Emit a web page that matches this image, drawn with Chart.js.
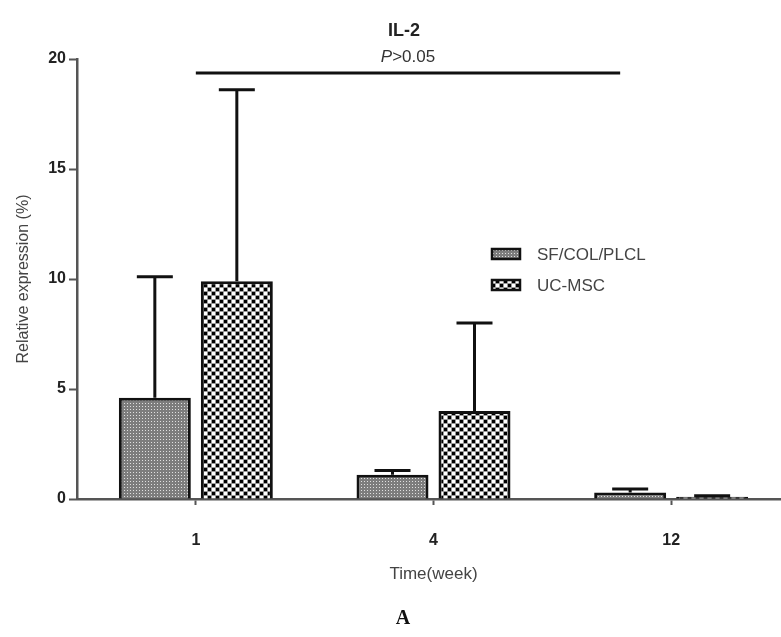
<!DOCTYPE html>
<html>
<head>
<meta charset="utf-8">
<script src="https://cdn.jsdelivr.net/npm/chart.js@4.4.1/dist/chart.umd.min.js"></script>
<style>
  html, body { margin: 0; padding: 0; background: #fff; overflow: hidden; }
  #wrap { position: relative; width: 781px; height: 637px; overflow: hidden; }
  #label { position: absolute; left: 0; width: 806px; top: 606px; text-align: center;
           font: bold 20px "Liberation Serif", "DejaVu Serif", serif; color: #111; }
</style>
</head>
<body>
<div id="wrap">
  <canvas id="myChart" width="792" height="637" style="width:792px;height:637px"></canvas>
  <div id="label">A</div>
</div>
<script>
// data
var weeks = ['1', '4', '12'];
var groupNames = ['SF/COL/PLCL', 'UC-MSC'];
var sfMean = [4.6, 1.1, 0.3];
var sfErr = [5.5, 0.2, 0.15];
var ucMean = [9.9, 4.0, 0.1];
var ucErr = [8.7, 4.0, 0.05];
var yTicks = [0, 5, 10, 15, 20];
var sigText = 'P>0.05';

// fill patterns like the printed figure
function finePattern() {
  var c = document.createElement('canvas');
  c.width = 3; c.height = 3;
  var g = c.getContext('2d');
  g.fillStyle = '#7d7d7d';
  g.fillRect(0, 0, 3, 3);
  g.fillStyle = '#e0e0e0';
  g.fillRect(1, 1, 1, 1);
  return g.createPattern(c, 'repeat');
}
function checkPattern() {
  var c = document.createElement('canvas');
  c.width = 8; c.height = 8;
  var g = c.getContext('2d');
  g.fillStyle = '#9a9a9a';
  g.fillRect(0, 0, 8, 8);
  g.fillStyle = '#000';
  g.fillRect(0, 0, 3, 3);
  g.fillRect(4, 4, 3, 3);
  g.fillStyle = '#fff';
  g.fillRect(4, 0, 3, 3);
  g.fillRect(0, 4, 3, 3);
  return g.createPattern(c, 'repeat');
}
var fills = [finePattern(), checkPattern()];
var errs = [sfErr, ucErr];

var extras = {
  id: 'extras',
  afterDatasetsDraw: function(chart) {
    var ctx = chart.ctx;
    var ys = chart.scales.y;
    ctx.save();
    ctx.strokeStyle = '#111';
    ctx.lineWidth = 3;
    // error bars (upper only)
    chart.data.datasets.forEach(function(ds, i) {
      var meta = chart.getDatasetMeta(i);
      meta.data.forEach(function(bar, j) {
        var top = ys.getPixelForValue(ds.data[j]);
        var hi = ys.getPixelForValue(ds.data[j] + errs[i][j]);
        ctx.beginPath();
        ctx.moveTo(bar.x, top);
        ctx.lineTo(bar.x, hi);
        ctx.moveTo(bar.x - 18, hi);
        ctx.lineTo(bar.x + 18, hi);
        ctx.stroke();
      });
    });
    // significance line
    var x0 = chart.scales.x.getPixelForValue(0);
    var x1 = chart.getDatasetMeta(0).data[2].x - 10;
    var yl = 73;
    ctx.beginPath();
    ctx.moveTo(x0, yl);
    ctx.lineTo(x1, yl);
    ctx.stroke();
    var mid = (x0 + x1) / 2;
    ctx.fillStyle = '#333';
    ctx.textBaseline = 'middle';
    ctx.font = 'italic 17px "Liberation Sans", Arial, sans-serif';
    var pw = ctx.measureText('P').width;
    ctx.font = '17px "Liberation Sans", Arial, sans-serif';
    var rw = ctx.measureText(sigText.slice(1)).width;
    var sx = mid - (pw + rw) / 2;
    ctx.textAlign = 'left';
    ctx.font = 'italic 17px "Liberation Sans", Arial, sans-serif';
    ctx.fillText('P', sx, 57);
    ctx.font = '17px "Liberation Sans", Arial, sans-serif';
    ctx.fillText(sigText.slice(1), sx + pw, 57);
    // title
    ctx.fillStyle = '#222';
    ctx.textAlign = 'center';
    ctx.font = 'bold 18px "Liberation Sans", Arial, sans-serif';
    ctx.fillText('IL-2', mid - 4, 31);
    // legend
    ctx.textAlign = 'left';
    ctx.font = '17px "Liberation Sans", Arial, sans-serif';
    chart.data.datasets.forEach(function(ds, i) {
      var cy = 254 + i * 31;
      ctx.fillStyle = ds.backgroundColor;
      ctx.fillRect(492, cy - 5, 28, 10);
      ctx.lineWidth = 2.5;
      ctx.strokeRect(492, cy - 5, 28, 10);
      ctx.fillStyle = '#444';
      ctx.fillText(ds.label, 537, cy + 1);
    });
    ctx.restore();
  }
};

new Chart(document.getElementById('myChart').getContext('2d'), {
  type: 'bar',
  data: {
    labels: weeks,
    datasets: [
      { label: groupNames[0], data: sfMean, backgroundColor: fills[0],
        borderColor: '#111', borderWidth: 3 },
      { label: groupNames[1], data: ucMean, backgroundColor: fills[1],
        borderColor: '#111', borderWidth: 3 }
    ]
  },
  options: {
    responsive: false,
    animation: false,
    layout: { padding: { top: 59, left: 0, right: 2, bottom: 52 } },
    categoryPercentage: 0.69,
    barPercentage: 0.878,
    plugins: { legend: { display: false }, tooltip: { enabled: false } },
    scales: {
      x: {
        grid: { display: true, drawOnChartArea: false, offset: false, tickLength: 6,
                color: '#555', tickWidth: 2 },
        border: { color: '#555', width: 2.5 },
        ticks: { padding: 26, color: '#222',
                 font: { family: '"Liberation Sans", Arial, sans-serif', size: 16, weight: 'bold' } },
        title: { display: true, text: 'Time(week)', color: '#444', padding: { top: 8, bottom: 0 },
                 font: { family: '"Liberation Sans", Arial, sans-serif', size: 17 } },
        afterFit: function(s) { s.height = 86; }
      },
      y: {
        min: 0, max: 20,
        afterBuildTicks: function(s) { s.ticks = yTicks.map(function(v) { return { value: v }; }); },
        grid: { display: true, drawOnChartArea: false, tickLength: 8, color: '#555', tickWidth: 2 },
        border: { color: '#555', width: 2.5 },
        ticks: { padding: 3, color: '#222',
                 font: { family: '"Liberation Sans", Arial, sans-serif', size: 16, weight: 'bold' } },
        title: { display: true, text: 'Relative expression (%)', color: '#444', padding: { top: 14 },
                 font: { family: '"Liberation Sans", Arial, sans-serif', size: 16 } },
        afterFit: function(s) { s.width = 77; }
      }
    }
  },
  plugins: [extras]
});
</script>
</body>
</html>
